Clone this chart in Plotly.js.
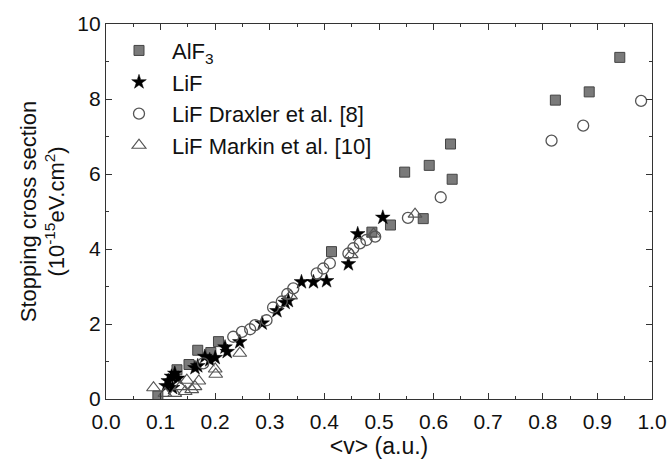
<!DOCTYPE html>
<html><head><meta charset="utf-8">
<script src="https://cdn.plot.ly/plotly-3.0.1.min.js"></script>
<style>html,body{margin:0;padding:0;background:#fff}</style>
</head><body>
<div id="chart" style="width:669px;height:466px"></div>
<script>
const alf3X = [0.095,0.130,0.152,0.168,0.192,0.206,0.413,0.487,0.521,0.547,0.581,0.592,0.631,0.634,0.823,0.885,0.941];
const alf3Y = [0.08,0.78,0.92,1.30,1.24,1.53,3.93,4.45,4.64,6.05,4.81,6.23,6.80,5.86,7.97,8.19,9.11];

const lifX = [0.110,0.114,0.120,0.126,0.122,0.132,0.163,0.168,0.181,0.190,0.200,0.218,0.222,0.245,0.286,0.313,0.328,0.334,0.358,0.380,0.404,0.444,0.461,0.507];
const lifY = [0.35,0.48,0.60,0.68,0.30,0.55,0.83,0.88,1.13,1.04,1.10,1.38,1.26,1.52,2.02,2.35,2.57,2.62,3.12,3.12,3.15,3.60,4.40,4.84];

const draxX = [0.178,0.233,0.249,0.264,0.273,0.294,0.306,0.322,0.332,0.343,0.386,0.398,0.410,0.444,0.453,0.465,0.477,0.493,0.553,0.613,0.816,0.874,0.980];
const draxY = [0.95,1.66,1.79,1.86,1.97,2.10,2.44,2.60,2.80,2.95,3.35,3.48,3.62,3.88,4.02,4.15,4.24,4.33,4.83,5.38,6.89,7.29,7.95];

const markX = [0.087,0.108,0.126,0.136,0.145,0.148,0.157,0.163,0.170,0.200,0.201,0.245,0.338,0.449,0.490,0.566];
const markY = [0.30,0.15,0.15,0.33,0.20,0.50,0.25,0.33,0.48,0.80,0.66,1.22,2.75,3.85,4.40,4.93];

const names = ['AlF<sub>3</sub>','LiF','LiF Draxler et al. [8]','LiF Markin et al. [10]'];
const xTicks = [0,0.1,0.2,0.3,0.4,0.5,0.6,0.7,0.8,0.9,1.0];
const yTicks = [0,2,4,6,8,10];

const traces = [
  {x: alf3X, y: alf3Y, name: names[0], mode:'markers', type:'scatter',
   marker:{symbol:'square', size:10, color:'#7a7a7a', line:{color:'#444', width:1}}},
  {x: lifX, y: lifY, name: names[1], mode:'markers', type:'scatter',
   marker:{symbol:'star', size:11, color:'#000', line:{color:'#000', width:0.5}}},
  {x: draxX, y: draxY, name: names[2], mode:'markers', type:'scatter',
   marker:{symbol:'circle-open', size:11, color:'#555', line:{width:1.3}}},
  {x: markX, y: markY, name: names[3], mode:'markers', type:'scatter',
   marker:{symbol:'triangle-up-open', size:12, color:'#555', line:{width:1.2}}}
];

const font = {family:'"Liberation Sans", Arial, sans-serif', color:'#111'};
const layout = {
  width:669, height:466,
  margin:{l:106, r:17, t:24, b:67},
  paper_bgcolor:'#fff', plot_bgcolor:'#fff',
  font: Object.assign({size:21}, font),
  showlegend:true,
  legend:{x:0, y:0.985, xanchor:'left', yanchor:'top', bgcolor:'rgba(0,0,0,0)',
          font: Object.assign({size:22}, font), tracegroupgap:0, itemwidth:56},
  xaxis:{range:[0,1], tickvals:xTicks, ticktext:xTicks.map(v=>v.toFixed(1)),
         ticks:'inside', ticklen:6, tickwidth:1, tickcolor:'#333',
         minor:{dtick:0.05, ticks:'inside', ticklen:3, tickcolor:'#333', showgrid:false},
         showline:true, linecolor:'#333', linewidth:1.2, mirror:'ticks',
         showgrid:false, zeroline:false, ticklabelstandoff:4,
         tickfont: Object.assign({size:21}, font),
         title:{text:'&lt;v&gt; (a.u.)', font:Object.assign({size:23}, font), standoff:4}},
  yaxis:{range:[0,10], tickvals:yTicks,
         ticks:'inside', ticklen:6, tickwidth:1, tickcolor:'#333',
         minor:{dtick:1, ticks:'inside', ticklen:3, tickcolor:'#333', showgrid:false},
         showline:true, linecolor:'#333', linewidth:1.2, mirror:'ticks',
         showgrid:false, zeroline:false,
         tickfont: Object.assign({size:21}, font),
         title:{text:'Stopping cross section<br>(10<sup>-15</sup>eV.cm<sup>2</sup>)', font:Object.assign({size:22}, font), standoff:6}}
};
Plotly.newPlot('chart', traces, layout, {staticPlot:true, displayModeBar:false});
</script>
</body></html>
